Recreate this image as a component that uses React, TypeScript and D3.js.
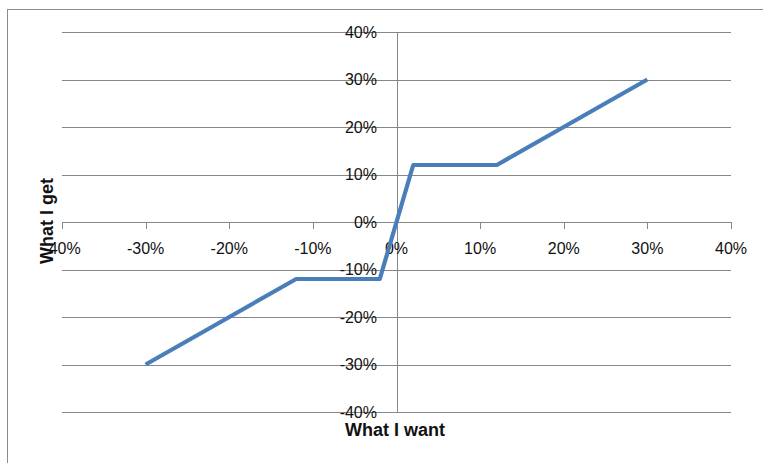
import React from "react";
import * as d3 from "d3";

const xTicks = [-0.4, -0.3, -0.2, -0.1, 0, 0.1, 0.2, 0.3, 0.4];
const yTicks = [-0.4, -0.3, -0.2, -0.1, 0, 0.1, 0.2, 0.3, 0.4];
const wantValues = [-0.3, -0.12, -0.02, 0.02, 0.12, 0.3];
const getValues = [-0.3, -0.12, -0.12, 0.12, 0.12, 0.3];
const xTitle = "What I want";
const yTitle = "What I get";

const W = 763;
const H = 463;
const FONT = "'Liberation Sans', Arial, sans-serif";

export default function App() {
  const x = d3.scaleLinear().domain([-0.4, 0.4]).range([62, 731]);
  const y = d3.scaleLinear().domain([-0.4, 0.4]).range([412, 32]);
  const fmt = (v: number) => `${Math.round(v * 100)}%`;
  const pts = wantValues.map((w, i) => [w, getValues[i]] as [number, number]);
  const line = d3
    .line<[number, number]>()
    .x((d) => x(d[0]))
    .y((d) => y(d[1]));
  const x0 = x(0);
  const y0 = y(0);
  const gridColor = "#878787";
  return (
    <svg
      width={W}
      height={H}
      style={{ position: "absolute", left: 0, top: 0, background: "#fff" }}
    >
      <rect x={7.5} y={9.5} width={900} height={600} fill="#fff" stroke="#8c8c8c" strokeWidth={1} />
      {yTicks.map((t) => (
        <line key={"g" + t} x1={x(-0.4)} x2={x(0.4)} y1={Math.round(y(t)) + 0.5} y2={Math.round(y(t)) + 0.5} stroke={gridColor} strokeWidth={1} />
      ))}
      <line x1={Math.round(x0) + 0.5} x2={Math.round(x0) + 0.5} y1={y(0.4)} y2={y(-0.4)} stroke={gridColor} strokeWidth={1} />
      {xTicks.map((t) => (
        <line key={"t" + t} x1={Math.round(x(t)) + 0.5} x2={Math.round(x(t)) + 0.5} y1={y0} y2={y0 + 7} stroke={gridColor} strokeWidth={1} />
      ))}
      {yTicks.map((t) => (
        <text key={"yl" + t} x={377} y={y(t)} dy="0.35em" textAnchor="end" fontFamily={FONT} fontSize={16} fill="#111">
          {fmt(t)}
        </text>
      ))}
      {xTicks.map((t) => (
        <text key={"xl" + t} x={x(t)} y={248} dy="0.35em" textAnchor="middle" fontFamily={FONT} fontSize={16} fill="#111">
          {fmt(t)}
        </text>
      ))}
      <path d={line(pts) || ""} fill="none" stroke="#4a7ebb" strokeWidth={4.2} strokeLinejoin="round" />
      <text x={395} y={430} dy="0.35em" textAnchor="middle" fontFamily={FONT} fontSize={18} fontWeight="bold" fill="#111">
        {xTitle}
      </text>
      <text transform={`translate(47,221) rotate(-90)`} dy="0.35em" textAnchor="middle" fontFamily={FONT} fontSize={18} fontWeight="bold" fill="#111">
        {yTitle}
      </text>
    </svg>
  );
}
